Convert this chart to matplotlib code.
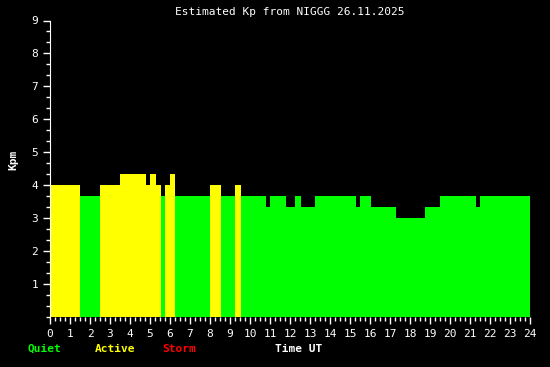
import numpy as np
import matplotlib
matplotlib.use("Agg")
import matplotlib.pyplot as plt
from matplotlib.ticker import MultipleLocator

# start times (UT hours) of each Kp interval, last entry closes the day
t_edges = [0, 1.5, 2.5, 3.5, 4.8, 5.0, 5.3, 5.55, 5.75, 6.0, 6.25, 8.0, 8.55,
           9.25, 9.55, 10.8, 11.0, 11.8, 12.25, 12.55, 13.25, 15.3, 15.5,
           16.05, 17.3, 18.75, 19.5, 21.3, 21.5, 24]
kp = [4.0, 3.67, 4.0, 4.33, 4.0, 4.33, 4.0, 3.67, 4.0, 4.33, 3.67, 4.0, 3.67,
      4.0, 3.67, 3.33, 3.67, 3.33, 3.67, 3.33, 3.67, 3.33, 3.67, 3.33, 3.0,
      3.33, 3.67, 3.33, 3.67]
title = "Estimated Kp from NIGGG 26.11.2025"


def kp_color(v):
    if v >= 5:
        return "#ff0000"
    if v >= 4:
        return "#ffff00"
    return "#00ff00"


font = "DejaVu Sans Mono"
fig = plt.figure(figsize=(5.5, 3.67), dpi=100, facecolor="black")
ax = fig.add_axes([50 / 550, 50 / 367, 480 / 550, 296.5 / 367])
ax.set_facecolor("black")

left = np.array(t_edges[:-1])
width = np.diff(t_edges)
ax.bar(left, kp, width=width, align="edge", color=[kp_color(v) for v in kp],
       linewidth=0)

ax.set_xlim(0, 24)
ax.set_ylim(0, 9)
for s in ["top", "right", "bottom"]:
    ax.spines[s].set_visible(False)
ax.spines["left"].set_color("white")

ax.xaxis.set_major_locator(MultipleLocator(1))
ax.xaxis.set_minor_locator(MultipleLocator(0.25))
ax.yaxis.set_major_locator(MultipleLocator(1))
ax.yaxis.set_minor_locator(MultipleLocator(1 / 3))
ax.tick_params(colors="white", which="both", labelsize=8)
ax.tick_params(which="major", length=5, width=1)
ax.tick_params(which="minor", length=3, width=1)
ax.set_xticks(range(25))
ax.set_xticklabels([str(i) for i in range(25)], family=font)
ax.set_yticks(range(1, 10))
ax.set_yticklabels([str(i) for i in range(1, 10)], family=font)

fig.text(290 / 550, 1 - 12 / 367, title, color="white", family=font,
         fontsize=8, ha="center", va="center")
fig.text(13 / 550, 1 - 160 / 367, "Kpm", color="white", family=font,
         fontsize=8, fontweight="bold", rotation=90, ha="center", va="center")

ly = 1 - 349 / 367
fig.text(28 / 550, ly, "Quiet", color="#00ff00", family=font, fontsize=8,
         fontweight="bold", va="center")
fig.text(95 / 550, ly, "Active", color="#ffff00", family=font, fontsize=8,
         fontweight="bold", va="center")
fig.text(162 / 550, ly, "Storm", color="#ff0000", family=font, fontsize=8,
         fontweight="bold", va="center")
fig.text(275 / 550, ly, "Time UT", color="white", family=font, fontsize=8,
         fontweight="bold", va="center")

fig.savefig("out.png", dpi=100, facecolor="black")
